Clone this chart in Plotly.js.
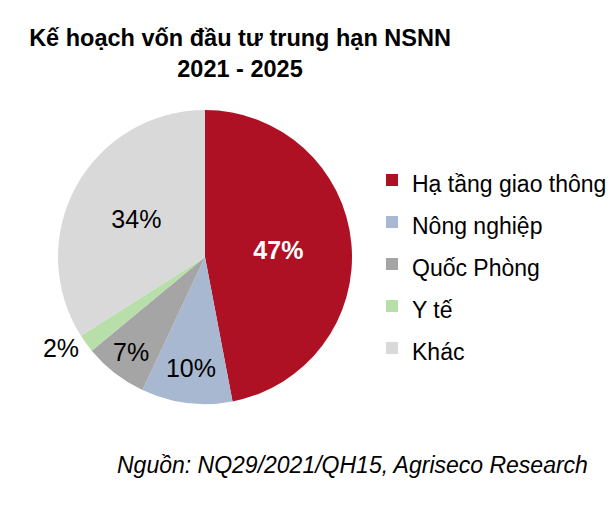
<!DOCTYPE html>
<html>
<head>
<meta charset="utf-8">
<script src="https://cdn.plot.ly/plotly-3.0.1.min.js"></script>
<style>html,body{margin:0;padding:0;background:#fff}#chart{width:612px;height:508px}</style>
</head>
<body>
<div id="chart"></div>
<script>
var categories = ["Hạ tầng giao thông", "Nông nghiệp", "Quốc Phòng", "Y tế", "Khác"];
var shares = [47, 10, 7, 2, 34];
var sliceColors = ["#AE1124", "#A7B8D0", "#A5A5A5", "#B8DEA9", "#D9D9D9"];
var titleText = "Kế hoạch vốn đầu tư trung hạn NSNN<br>2021 - 2025";
var sourceText = "Nguồn: NQ29/2021/QH15, Agriseco Research";

var FONT = "Liberation Sans, Arial, sans-serif";

var trace = {
  type: "pie",
  labels: categories.map(function(c){ return '<span style="font-size:23px">' + c + '</span>'; }),
  values: shares,
  sort: false,
  direction: "clockwise",
  rotation: 0,
  marker: {colors: sliceColors, line: {width: 0}},
  texttemplate: ["<b>%{percent:.0%}</b>", "%{percent:.0%}", "%{percent:.0%}", "%{percent:.0%}", "%{percent:.0%}"],
  textposition: ["inside", "inside", "inside", "outside", "inside"],
  insidetextorientation: "horizontal",
  textfont: {family: FONT, size: 25, color: ["#ffffff", "#000000", "#000000", "#000000", "#000000"]},
  outsidetextfont: {family: FONT, size: 25, color: "#000000"},
  hoverinfo: "label+percent",
  domain: {x: [58/612, 352/612], y: [(508-404)/508, (508-110)/508]}
};

var layout = {
  width: 612, height: 508,
  margin: {l: 0, r: 0, t: 0, b: 0},
  paper_bgcolor: "#ffffff",
  font: {family: FONT, color: "#000000"},
  title: {
    text: titleText,
    font: {family: FONT, size: 23.5, color: "#000000", weight: "bold"},
    x: 240/612, xanchor: "center",
    y: 1 - 46/508, yanchor: "top", yref: "container"
  },
  showlegend: true,
  legend: {
    x: 0.608, xanchor: "left",
    y: (508-154)/508, yanchor: "top",
    font: {family: FONT, size: 30, color: "#000000"},
    bgcolor: "rgba(0,0,0,0)",
    traceorder: "normal"
  },
  annotations: [{
    text: "<i>" + sourceText + "</i>",
    showarrow: false,
    xref: "paper", yref: "paper",
    x: 590/612, xanchor: "right",
    y: (508-465)/508, yanchor: "middle",
    font: {family: FONT, size: 23, color: "#000000"}
  }]
};

Plotly.newPlot("chart", [trace], layout, {displayModeBar: false, staticPlot: true});
</script>
</body>
</html>
